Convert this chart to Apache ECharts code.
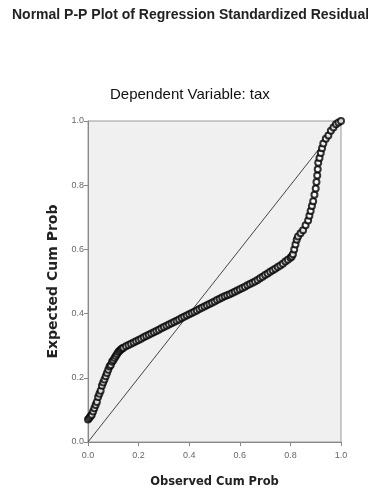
<!DOCTYPE html>
<html>
<head>
<meta charset="utf-8">
<script src="https://cdn.jsdelivr.net/npm/echarts@6/dist/echarts.min.js"></script>
<style>html,body{margin:0;padding:0;background:#fff}#c{width:368px;height:493px}</style>
</head>
<body>
<div id="c"></div>
<script>
const title = "Normal P-P Plot of Regression Standardized Residual";
const subtitle = "Dependent Variable: tax";
const xName = "Observed Cum Prob";
const yName = "Expected Cum Prob";
const tickLabels = ["0.0","0.2","0.4","0.6","0.8","1.0"];
const observed = [0.000,0.005,0.010,0.015,0.020,0.025,0.030,0.035,0.040,0.045,0.050,0.055,0.060,0.065,0.070,0.075,0.080,0.085,0.090,0.095,0.100,0.105,0.110,0.115,0.120,0.125,0.130,0.135,0.140,0.150,0.160,0.170,0.180,0.190,0.200,0.210,0.220,0.230,0.240,0.250,0.260,0.270,0.280,0.290,0.300,0.310,0.320,0.330,0.340,0.350,0.360,0.370,0.380,0.390,0.400,0.410,0.420,0.430,0.440,0.450,0.460,0.470,0.480,0.490,0.500,0.510,0.520,0.530,0.540,0.550,0.560,0.570,0.580,0.590,0.600,0.610,0.620,0.630,0.640,0.650,0.660,0.670,0.680,0.690,0.700,0.710,0.720,0.730,0.740,0.750,0.760,0.770,0.780,0.790,0.800,0.805,0.810,0.815,0.820,0.825,0.830,0.840,0.850,0.860,0.870,0.875,0.880,0.885,0.890,0.895,0.900,0.903,0.906,0.908,0.910,0.915,0.920,0.925,0.930,0.940,0.950,0.960,0.970,0.980,0.990,1.000];
const expected = [0.070,0.075,0.080,0.085,0.095,0.105,0.115,0.125,0.140,0.150,0.160,0.175,0.185,0.195,0.205,0.215,0.225,0.235,0.240,0.250,0.255,0.262,0.268,0.274,0.280,0.284,0.288,0.291,0.294,0.298,0.302,0.306,0.310,0.314,0.318,0.322,0.326,0.330,0.334,0.338,0.342,0.346,0.350,0.354,0.358,0.362,0.366,0.370,0.374,0.378,0.382,0.386,0.390,0.394,0.398,0.402,0.406,0.410,0.414,0.418,0.422,0.426,0.430,0.434,0.438,0.442,0.446,0.450,0.454,0.457,0.460,0.464,0.468,0.472,0.476,0.480,0.484,0.488,0.492,0.496,0.500,0.505,0.510,0.515,0.520,0.525,0.530,0.535,0.540,0.545,0.550,0.555,0.562,0.568,0.574,0.578,0.585,0.600,0.615,0.630,0.640,0.650,0.660,0.675,0.690,0.705,0.720,0.735,0.750,0.770,0.790,0.810,0.830,0.850,0.870,0.885,0.900,0.915,0.930,0.945,0.955,0.970,0.980,0.990,0.995,1.000];
const diagX = [0, 1];
const diagY = [0, 1];

const chart = echarts.init(document.getElementById('c'), null, {renderer: 'canvas'});
const font = "'Liberation Sans', Arial, sans-serif";
const fontWide = "'DejaVu Sans', sans-serif";
chart.setOption({
  backgroundColor: '#fff',
  animation: false,
  title: [
    {text: title, left: 12, top: 8, padding: 0, textStyle: {fontFamily: font, fontSize: 14, fontWeight: 'bold', color: '#222'}},
    {text: subtitle, left: 110, top: 87, padding: 0, textStyle: {fontFamily: font, fontSize: 15, fontWeight: 'normal', color: '#111'}}
  ],
  grid: {left: 88, right: 27, top: 121, bottom: 50, show: true, backgroundColor: '#f0f0f0', borderColor: '#9a9a9a', borderWidth: 1},
  xAxis: {
    type: 'value', min: 0, max: 1, interval: 0.2,
    name: xName, nameLocation: 'middle', nameGap: 34,
    nameTextStyle: {fontFamily: fontWide, fontSize: 11.5, fontWeight: 'bold', color: '#222'},
    axisLine: {show: true, lineStyle: {color: '#888'}},
    axisTick: {show: true, length: 4, lineStyle: {color: '#888'}},
    splitLine: {show: false},
    axisLabel: {fontFamily: font, fontSize: 9, color: '#666', margin: 9, formatter: v => tickLabels[Math.round(v * 5)]}
  },
  yAxis: {
    type: 'value', min: 0, max: 1, interval: 0.2,
    name: yName, nameLocation: 'middle', nameGap: 23, nameRotate: 90,
    nameTextStyle: {fontFamily: fontWide, fontSize: 14, fontWeight: 'bold', color: '#222'},
    axisLine: {show: true, lineStyle: {color: '#888'}},
    axisTick: {show: true, length: 4, lineStyle: {color: '#888'}},
    splitLine: {show: false},
    axisLabel: {fontFamily: font, fontSize: 9, color: '#666', margin: 4, formatter: v => tickLabels[Math.round(v * 5)]}
  },
  series: [
    {type: 'line', data: diagX.map((x, i) => [x, diagY[i]]), symbol: 'none', lineStyle: {color: '#444', width: 1}, z: 1},
    {type: 'scatter', data: observed.map((x, i) => [x, expected[i]]), symbol: 'emptyCircle', symbolSize: 6,
     itemStyle: {color: '#000', borderColor: '#000', borderWidth: 1.6}, z: 2}
  ]
});
</script>
</body>
</html>
